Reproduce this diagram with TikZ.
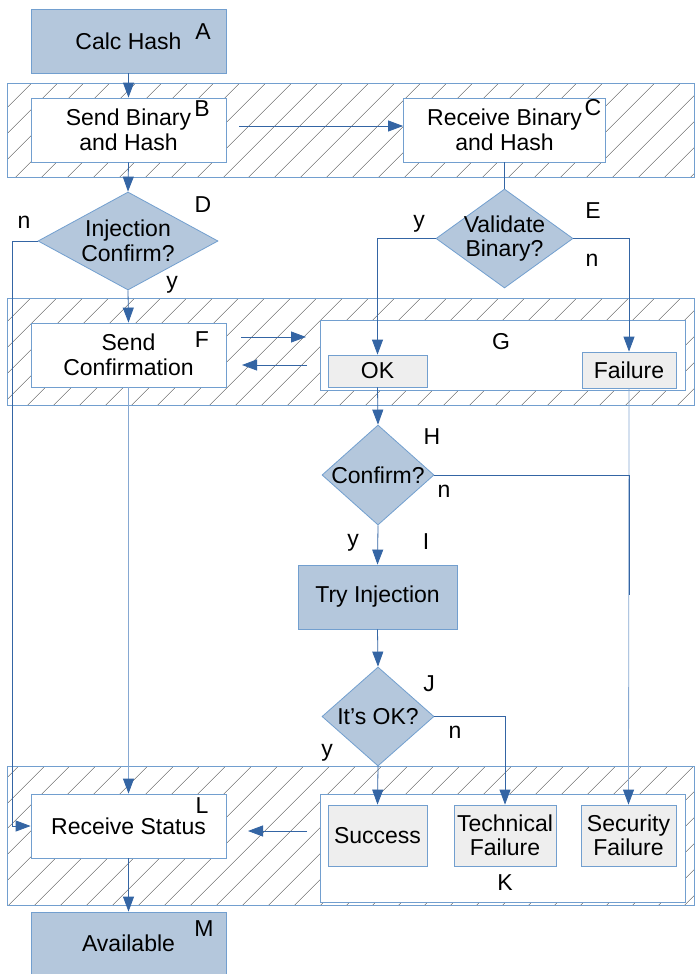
\documentclass[tikz,border=0pt]{standalone}
\usepackage{fontspec}
\setmainfont{Liberation Sans}
\usetikzlibrary{arrows.meta,shapes.geometric,patterns.meta}

\definecolor{boxblue}{HTML}{B4C7DC}
\definecolor{edgeblue}{HTML}{729FCF}
\definecolor{linkblue}{HTML}{3465A4}
\definecolor{paleblue}{HTML}{86A8D2}
\definecolor{boxgray}{HTML}{EEEEEE}

\tikzset{
  every node/.style={font=\fontsize{23}{24.5}\selectfont},
  box/.style={draw=edgeblue, line width=0.8pt, rectangle, inner sep=0pt},
  bluebox/.style={box, fill=boxblue},
  whitebox/.style={box, fill=white},
  graybox/.style={box, fill=boxgray, align=center},
  dia/.style={draw=edgeblue, line width=0.8pt, fill=boxblue, diamond, inner sep=0pt},
  txt/.style={align=center, inner sep=0pt},
  tag/.style={inner sep=0pt},
  band/.style={draw=edgeblue, line width=0.8pt,
    pattern={Lines[angle=45, distance=18.9pt, line width=0.45pt]},
    pattern color=black!65},
  link/.style={draw=linkblue, line width=0.8pt},
  pale/.style={draw=paleblue, line width=0.8pt},
  tip/.style={-{Triangle[length=15pt, width=11pt, color=linkblue]}},
}

\begin{document}
\begin{tikzpicture}[x=1pt, y=-1pt]
\useasboundingbox (0,0) rectangle (695,974);
\fill[white] (0,0) rectangle (695,974);

% hatched swim-lane bands
\path[band] (7,83) rectangle (694.6,177);
\path[band] (7,298) rectangle (694.6,405);
\path[band] (7,766) rectangle (694.6,905);

% process boxes
\node[bluebox, minimum width=195pt, minimum height=64pt] (A) at (128.5,41) {};
\node[txt] at (A) {Calc Hash};
\node[tag] at (203,32) {A};

\node[whitebox, minimum width=195pt, minimum height=64pt] (B) at (128.5,130) {};
\node[txt] at (B) {Send Binary\\and Hash};
\node[tag] at (202,109) {B};

\node[whitebox, minimum width=202pt, minimum height=64pt] (C) at (504.5,130) {};
\node[txt] at (C) {Receive Binary\\and Hash};
\node[tag] at (593,108) {C};

\node[dia, minimum width=180pt, minimum height=98pt] (D) at (128,241) {};
\node[txt] at (D) {Injection\\Confirm?};
\node[tag] at (203,205) {D};
\node[tag] at (24,222) {n};
\node[tag] at (172,285) {y};

\node[dia, minimum width=137pt, minimum height=99pt] (E) at (504.5,238.5) {};
\node[txt] at (E) {Validate\\Binary?};
\node[tag] at (593,211) {E};
\node[tag] at (419,224) {y};
\node[tag] at (592,260) {n};

\node[whitebox, minimum width=195pt, minimum height=64pt] (F) at (128.5,355) {};
\node[txt] at (F) {Send\\Confirmation};
\node[tag] at (202,340) {F};

\node[whitebox, minimum width=365pt, minimum height=70pt] (G) at (502.5,355) {};
\node[tag] at (501,342) {G};
\node[graybox, minimum width=99pt, minimum height=32pt] (OK) at (377.5,371) {OK};
\node[graybox, minimum width=94pt, minimum height=36pt] (Fail) at (629,370) {Failure};

\node[dia, minimum width=112pt, minimum height=100pt] (H) at (378,475) {};
\node[txt] at (H) {Confirm?};
\node[tag] at (432,437) {H};
\node[tag] at (444,491) {n};
\node[tag] at (353,543) {y};
\node[tag] at (426,542) {I};

\node[bluebox, minimum width=159pt, minimum height=64pt] (Try) at (377.5,597) {};
\node[txt] at (Try) {Try Injection};

\node[dia, minimum width=112pt, minimum height=99pt] (J) at (378,716.5) {};
\node[txt] at (J) {It’s OK?};
\node[tag] at (429,684) {J};
\node[tag] at (455,732) {n};
\node[tag] at (327,753) {y};

\node[whitebox, minimum width=195pt, minimum height=64pt] (L) at (128.5,826) {};
\node[txt] at (L) {Receive Status};
\node[tag] at (202,806) {L};

\node[whitebox, minimum width=364.5pt, minimum height=108pt] (K) at (502.75,848) {};
\node[tag] at (505,883) {K};
\node[graybox, minimum width=99pt, minimum height=61pt] (Succ) at (377.5,835.5) {Success};
\node[graybox, minimum width=102pt, minimum height=61pt] (Tech) at (505,835.5) {Technical\\Failure};
\node[graybox, minimum width=95pt, minimum height=61pt] (Sec) at (628.5,835.5) {Security\\Failure};

\node[bluebox, minimum width=195pt, minimum height=73pt] (M) at (128.5,948.5) {};
\node[txt] at (128.5,943) {Available};
\node[tag] at (204,929) {M};

% free ends of the side connectors
\coordinate (bc) at (239,126);
\coordinate (dn) at (12,241);
\coordinate (fg1) at (241,337);
\coordinate (fg2) at (306,337);
\coordinate (gf1) at (307,365);
\coordinate (gf2) at (242,365);
\coordinate (hn) at (629,475);
\coordinate (hn2) at (629,595);
\coordinate (kl1) at (307,831);
\coordinate (kl2) at (248,831);

% connectors
\draw[link, tip] (A.south) -- (B.north);
\draw[link, tip] (bc) -- (bc -| C.west);
\draw[link, tip] (B.south) -- (D.north);
\draw[link, tip] (D.west) -- (dn) |- (L.west);
\draw[link, tip] (D.south) -- (F.north);
\draw[link] (C.south) -- (E.north);
\draw[link, tip] (E.west) -| (OK.north);
\draw[link, tip] (E.east) -| (Fail.north);
\draw[link, tip] (fg1) -- (fg2);
\draw[link, tip] (gf1) -- (gf2);
\draw[link, tip] (OK.south) -- (H.north);
\draw[pale, tip] (Fail.south) -- (Sec.north);
\draw[link] (H.east) -- (hn) -- (hn2);
\draw[link, tip] (H.south) -- (Try.north);
\draw[link, tip] (Try.south) -- (J.north);
\draw[link, tip] (J.south) -- (Succ.north);
\draw[link, tip] (J.east) -| (Tech.north);
\draw[pale, tip] (F.south) -- (L.north);
\draw[link, tip] (kl1) -- (kl2);
\draw[link, tip] (L.south) -- (M.north);
\end{tikzpicture}
\end{document}
